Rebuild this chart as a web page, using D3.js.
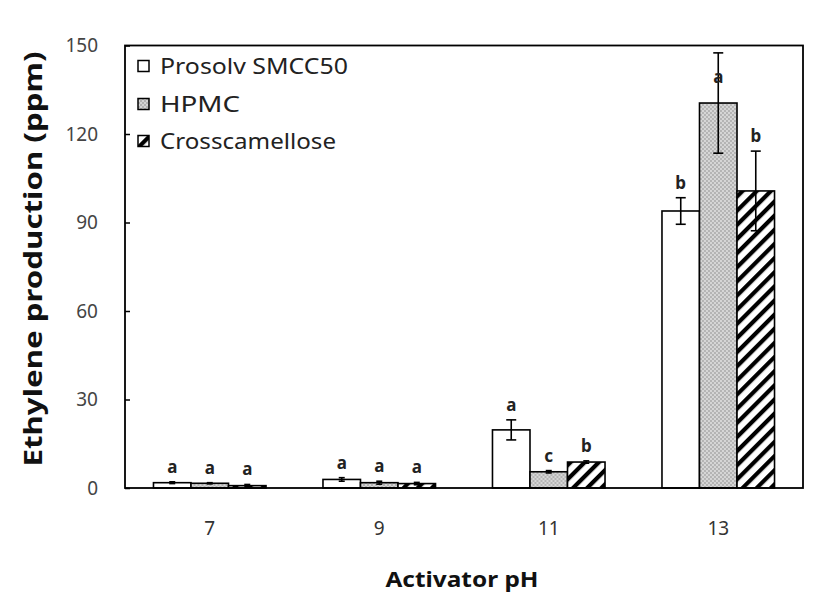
<!DOCTYPE html>
<html>
<head>
<meta charset="utf-8">
<script src="https://cdn.jsdelivr.net/npm/d3@7"></script>
<style>
  html, body { margin: 0; padding: 0; background: #fff; }
  svg { display: block; }
  text { font-family: "Noto Sans", "Open Sans", sans-serif; }
</style>
</head>
<body>
<svg id="chart" width="827" height="606"></svg>
<script>
// ---- data ----
const categories = ["7", "9", "11", "13"];
const seriesNames = ["Prosolv  SMCC50", "HPMC", "Crosscamellose"];
const prosolv    = [1.8, 2.9, 19.7, 93.9];
const prosolvErr = [0.3, 0.6, 3.4, 4.5];
const hpmc       = [1.6, 1.8, 5.5, 130.5];
const hpmcErr    = [0.2, 0.5, 0.4, 17.0];
const cross      = [0.8, 1.5, 8.8, 100.7];
const crossErr   = [0.4, 0.4, 0.4, 13.5];
const prosolvLetters = ["a", "a", "a", "b"];
const hpmcLetters    = ["a", "a", "c", "a"];
const crossLetters   = ["a", "a", "b", "b"];
const yTicks = [0, 30, 60, 90, 120, 150];
const xTitle = "Activator pH";
const yTitle = "Ethylene production (ppm)";

const series = [
  { name: seriesNames[0], values: prosolv, errs: prosolvErr, letters: prosolvLetters, fill: "#ffffff" },
  { name: seriesNames[1], values: hpmc,    errs: hpmcErr,    letters: hpmcLetters,    fill: "url(#stipple)" },
  { name: seriesNames[2], values: cross,   errs: crossErr,   letters: crossLetters,   fill: "url(#hatch)" }
];

// ---- layout ----
const svg = d3.select("#chart");
const L = 125, R = 803, T = 45.5, B = 488;

const defs = svg.append("defs");
const st = defs.append("pattern").attr("id", "stipple").attr("patternUnits", "userSpaceOnUse")
  .attr("width", 4).attr("height", 4);
st.append("rect").attr("width", 4).attr("height", 4).attr("fill", "#d6d6d6");
st.append("circle").attr("cx", 1).attr("cy", 1).attr("r", 0.8).attr("fill", "#8a8a8a");
st.append("circle").attr("cx", 3).attr("cy", 3).attr("r", 0.8).attr("fill", "#8a8a8a");

const ht = defs.append("pattern").attr("id", "hatch").attr("patternUnits", "userSpaceOnUse")
  .attr("width", 10).attr("height", 10).attr("patternTransform", "rotate(45)");
ht.append("rect").attr("width", 10).attr("height", 10).attr("fill", "#fff");
ht.append("rect").attr("width", 4.2).attr("height", 10).attr("fill", "#000");

const x0 = d3.scaleBand().domain(categories).range([L, R]).paddingInner(0.336).paddingOuter(0.168);
const x1 = d3.scaleBand().domain(d3.range(series.length)).range([0, x0.bandwidth()]);
const y = d3.scaleLinear().domain([0, 150]).range([B, T]);

// bars
const groups = svg.append("g").selectAll("g").data(categories).join("g")
  .attr("transform", d => `translate(${x0(d)},0)`);

series.forEach((s, si) => {
  groups.append("rect")
    .attr("x", x1(si))
    .attr("width", x1.bandwidth())
    .attr("y", (d, i) => y(s.values[i]))
    .attr("height", (d, i) => y(0) - y(s.values[i]))
    .attr("fill", s.fill)
    .attr("stroke", "#000")
    .attr("stroke-width", 1.6);
});

// error bars & letters
series.forEach((s, si) => {
  groups.each(function (d, i) {
    const g = d3.select(this);
    const cx = x1(si) + x1.bandwidth() / 2;
    const v = s.values[i], e = s.errs[i];
    const yt = y(v + e), yb = y(Math.max(v - e, 0));
    g.append("line").attr("x1", cx).attr("x2", cx).attr("y1", yt).attr("y2", yb)
      .attr("stroke", "#000").attr("stroke-width", 1.6);
    const cw = e > 1 ? 5 : 3;
    [yt, yb].forEach(yy => g.append("line").attr("x1", cx - cw).attr("x2", cx + cw)
      .attr("y1", yy).attr("y2", yy).attr("stroke", "#000").attr("stroke-width", 1.6));
    let ly = yt - 15;
    if (ly < T + 25) ly = y(v) - 26;
    g.append("text").attr("x", cx).attr("y", ly).attr("dy", "0.35em")
      .attr("text-anchor", "middle").attr("font-size", 17).attr("font-weight", "bold")
      .attr("fill", "#222").text(s.letters[i]);
  });
});

// frame
svg.append("rect").attr("x", L).attr("y", T).attr("width", R - L).attr("height", B - T)
  .attr("fill", "none").attr("stroke", "#000").attr("stroke-width", 1.8);

// y axis (ticks inside)
const yAxis = svg.append("g").attr("transform", `translate(${L},0)`)
  .call(d3.axisRight(y).tickValues(yTicks).tickSize(5).tickFormat(d3.format("d")));
yAxis.select(".domain").remove();
yAxis.selectAll(".tick line").attr("stroke", "#000").attr("stroke-width", 1.5);
yAxis.selectAll(".tick text").attr("x", -27).attr("text-anchor", "end")
  .attr("font-size", 19).attr("fill", "#444")
  .style("font-family", "'Noto Sans', sans-serif");

// x axis labels
const xAxis = svg.append("g").attr("transform", `translate(0,${B})`)
  .call(d3.axisBottom(x0).tickSize(0).tickPadding(0));
xAxis.select(".domain").remove();
xAxis.selectAll(".tick text").attr("y", 40).attr("dy", "0.35em")
  .attr("font-size", 19).attr("fill", "#333")
  .style("font-family", "'Noto Sans', sans-serif");

// titles
svg.append("text").attr("x", 462).attr("y", 587).attr("text-anchor", "middle")
  .attr("font-size", 21).attr("font-weight", "bold").attr("fill", "#111")
  .attr("textLength", 153).attr("lengthAdjust", "spacingAndGlyphs").text(xTitle);
svg.append("text").attr("transform", "translate(42,259) rotate(-90)").attr("text-anchor", "middle")
  .attr("font-size", 25).attr("font-weight", "bold").attr("fill", "#111")
  .attr("textLength", 415).attr("lengthAdjust", "spacingAndGlyphs").text(yTitle);

// legend
const legend = svg.append("g");
const legY = [66, 104, 141];
const legW = [188, 80, 176];
series.forEach((s, si) => {
  const gy = legY[si];
  legend.append("rect").attr("x", 138).attr("y", gy - 5.5).attr("width", 11).attr("height", 11)
    .attr("fill", s.fill).attr("stroke", "#000").attr("stroke-width", 1.5);
  legend.append("text").attr("x", 160).attr("y", gy).attr("dy", "0.36em")
    .attr("font-size", 21).attr("fill", "#222")
    .attr("textLength", legW[si]).attr("lengthAdjust", "spacingAndGlyphs").text(s.name);
});
</script>
</body>
</html>
